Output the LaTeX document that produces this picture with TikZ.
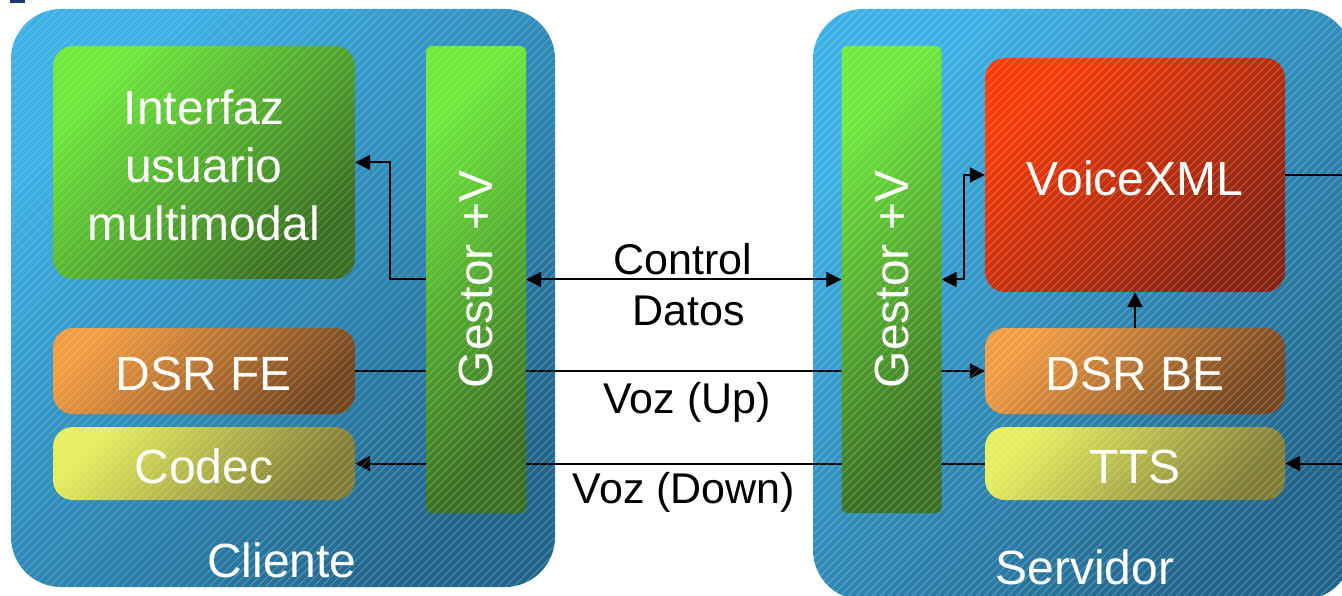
\documentclass[tikz,border=0pt]{standalone}
\usepackage{fontspec}
\setmainfont{Liberation Sans}
\usetikzlibrary{arrows.meta,calc}

\definecolor{blueA}{HTML}{3DB1E6}
\definecolor{blueB}{HTML}{22658A}
\definecolor{greenA}{HTML}{6EEA3C}
\definecolor{greenB}{HTML}{3A6E22}
\definecolor{orangeA}{HTML}{F29C42}
\definecolor{orangeB}{HTML}{744620}
\definecolor{yellowA}{HTML}{E6EE5E}
\definecolor{yellowB}{HTML}{7E7C36}
\definecolor{redA}{HTML}{FA3C08}
\definecolor{redB}{HTML}{862212}
\definecolor{markC}{HTML}{1C3A6A}

\tikzset{
  grad/.style 2 args={top color=#1, bottom color=#2, shading angle=45},
  panel/.style={grad={blueA}{blueB}, rounded corners=50pt, inner sep=0pt},
  block/.style={rounded corners=20pt, inner sep=0pt, text=white,
    font=\fontsize{48}{58}\selectfont, align=center},
  gestor/.style={grad={greenA}{greenB}, rounded corners=6pt, inner sep=0pt,
    minimum width=100pt, minimum height=467pt},
  hatch/.style={draw=white, draw opacity=0.3, line width=0.7pt},
  lbl/.style={font=\fontsize{43}{50}\selectfont, text=black},
  tip/.style={Triangle[length=15pt,width=15pt]},
  arr/.style={draw=black, line width=2pt, -{Triangle[length=15pt,width=15pt]}},
  darr/.style={draw=black, line width=2pt, {Triangle[length=15pt,width=15pt]}-{Triangle[length=15pt,width=15pt]}},
  plain/.style={draw=black, line width=2pt},
}

\begin{document}
\begin{tikzpicture}[x=1pt,y=-1pt]
\useasboundingbox (0,0) rectangle (1342,596);
\clip (0,0) rectangle (1342,596);

% small mark in the upper left corner
\fill[markC] (10,0) rectangle (25,3);

% the two panels
\node[panel, minimum width=544pt, minimum height=578pt] (cli) at (283,298) {};
\node[panel, minimum width=539pt, minimum height=591pt] (srv) at (1082.5,304.5) {};

% client blocks
\node[block, grad={greenA}{greenB}, minimum width=302pt, minimum height=233pt] (iface) at (204,162.5) {};
\node[block, grad={orangeA}{orangeB}, minimum width=302pt, minimum height=86pt] (dfe) at (204,371) {};
\node[block, grad={yellowA}{yellowB}, minimum width=302pt, minimum height=73pt] (cod) at (204,463.5) {};

% server blocks
\node[block, grad={redA}{redB}, minimum width=300pt, minimum height=234pt] (vxml) at (1135,175) {};
\node[block, grad={orangeA}{orangeB}, minimum width=300pt, minimum height=86pt] (dbe) at (1135,371) {};
\node[block, grad={yellowA}{yellowB}, minimum width=300pt, minimum height=73pt] (tts) at (1135,463.5) {};

% voice links run underneath the two managers
\draw[arr] (dfe.east) -- (dbe.west);
\draw[arr] (tts.west) -- (cod.east);

% the two managers
\node[gestor] (gl) at (476,279.5) {};
\node[gestor] (gr) at (891.5,279.5) {};

% diagonal hatching over both panels
\begin{scope}
  \clip[rounded corners=50pt] (cli.south west) rectangle (cli.north east)
                              (srv.south west) rectangle (srv.north east);
  \foreach \i in {-640,-632,...,1360}
    \draw[hatch] (\i,620) -- ++(640,-640);
\end{scope}

% texts of the blocks
\node[block] at ($(iface.center)+(0,3)$) {Interfaz\\usuario\\multimodal};
\node[block] at ($(dfe.center)+(0,3)$) {DSR FE};
\node[block] at ($(cod.center)+(0,3)$) {Codec};
\node[block] at ($(vxml.center)+(0,3)$) {VoiceXML};
\node[block] at ($(dbe.center)+(0,3)$) {DSR BE};
\node[block] at ($(tts.center)+(0,3)$) {TTS};
\node[block, rotate=90] at (gl.center) {Gestor +V};
\node[block, rotate=90] at (gr.center) {Gestor +V};
\node[block] at (282,560) {Cliente};
\node[block] at (1085,567) {Servidor};

% connectors
\draw[arr] (gl.west) -- ++(-36,0) |- (iface.east);
\draw[darr] (gl.east) -- (gr.west);
\draw[darr] (gr.east) -- ++(22,0) |- (vxml.west);
\draw[arr] (dbe.north) -- (vxml.south);
\coordinate (vout) at (1342,175);
\coordinate (tin) at (1342,463.5);
\draw[plain] (vxml.east) -- (vout);
\draw[arr] (tin) -- (tts.east);

% connector labels
\node[lbl] at (683,259) {Control};
\node[lbl] at (689,311) {Datos};
\node[lbl] at (687,402) {Voz (Up)};
\node[lbl] at (684,492) {Voz (Down)};
\end{tikzpicture}
\end{document}
